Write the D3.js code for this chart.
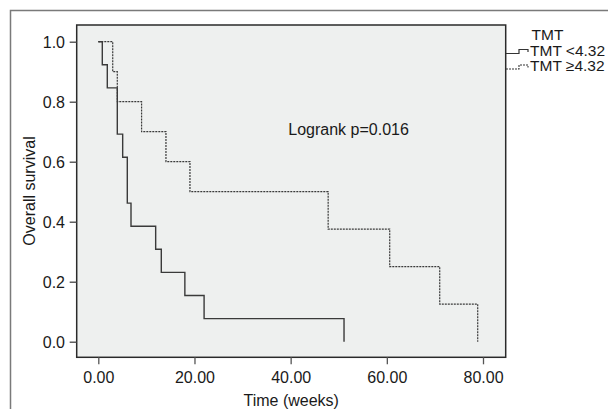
<!DOCTYPE html>
<html><head><meta charset="utf-8">
<script src="https://cdn.jsdelivr.net/npm/d3@7"></script>
<style>body{margin:0;background:#fff}svg{display:block}text{font-family:"Liberation Sans",Arial,sans-serif;fill:#1a1a1a}</style>
</head><body><svg id="c" width="608" height="409"></svg>
<script>
// data
const groupNames = ["TMT <4.32", "TMT \u22654.32"];
const legendTitle = "TMT";
const lowTimes = [0, 0.83, 1.87, 3.95, 5.07, 6.03, 6.8, 11.93, 13.1, 18.0, 22.0, 51.1];
const lowSurv  = [1.0, 0.923, 0.846, 0.692, 0.615, 0.462, 0.385, 0.308, 0.231, 0.154, 0.077, 0.0];
const highTimes = [0, 3.0, 3.95, 9.0, 14.07, 19.06, 47.8, 60.6, 71.0, 78.9];
const highSurv  = [1.0, 0.9, 0.8, 0.7, 0.6, 0.5, 0.375, 0.25, 0.125, 0.0];
const xTicks = [0, 20, 40, 60, 80];
const yTicks = [0, 0.2, 0.4, 0.6, 0.8, 1.0];
const annotation = "Logrank p=0.016";
const xTitle = "Time (weeks)";
const yTitle = "Overall survival";

const svg = d3.select("#c");
const P = {l: 76.7, r: 505.7, t: 25, b: 357.3};
const x = d3.scaleLinear().domain([0, 80]).range([98.3, 483]);
const y = d3.scaleLinear().domain([0, 1]).range([341.7, 41.7]);

// outer frame
svg.append("path").attr("d", "M10.5,409 L10.5,10.5 L608,10.5")
  .attr("fill", "none").attr("stroke", "#7a7a7a").attr("stroke-width", 1.5);

// plot area
svg.append("rect").attr("x", P.l).attr("y", P.t).attr("width", P.r - P.l).attr("height", P.b - P.t)
  .attr("fill", "#eef0ef").attr("stroke", "#2a2a2a").attr("stroke-width", 1.5);

// axes
const ya = svg.append("g").attr("transform", `translate(${P.l},0)`)
  .call(d3.axisLeft(y).tickValues(yTicks).tickFormat(d3.format(".1f")).tickSize(7));
ya.select(".domain").remove();
ya.selectAll("line").attr("stroke", "#444").attr("stroke-width", 1.3);
ya.selectAll("text").attr("x", -11.7).attr("dy", "0.36em").style("font-size", "16px")
  .attr("font-family", null).attr("fill", "#1a1a1a");

const xa = svg.append("g").attr("transform", `translate(0,${P.b})`)
  .call(d3.axisBottom(x).tickValues(xTicks).tickFormat(d3.format(".2f")).tickSize(7));
xa.select(".domain").remove();
xa.selectAll("line").attr("stroke", "#555").attr("stroke-width", 1.3);
xa.selectAll("text").attr("y", 26).attr("dy", 0).style("font-size", "16px")
  .attr("font-family", null).attr("fill", "#1a1a1a");

// curves
const line = d3.line().x(d => x(d[0])).y(d => y(d[1])).curve(d3.curveStepAfter);
const lowPts = lowTimes.map((t, i) => [t, lowSurv[i]]);
const highPts = highTimes.map((t, i) => [t, highSurv[i]]);
svg.append("path").attr("d", line(highPts)).attr("fill", "none")
  .attr("stroke", "#3a3a3a").attr("stroke-width", 1.2).attr("stroke-dasharray", "2,1");
svg.append("path").attr("d", line(lowPts)).attr("fill", "none")
  .attr("stroke", "#3a3a3a").attr("stroke-width", 1.4);

// annotation
svg.append("text").attr("x", 288.3).attr("y", 135).style("font-size", "16px").text(annotation);

// titles
svg.append("text").attr("x", (P.l + P.r) / 2).attr("y", 406).attr("text-anchor", "middle")
  .style("font-size", "16px").text(xTitle);
svg.append("text").attr("transform", "translate(34.5,191) rotate(-90)").attr("text-anchor", "middle")
  .style("font-size", "16px").text(yTitle);

// legend
svg.append("text").attr("x", 531.5).attr("y", 40).style("font-size", "15.5px").text(legendTitle);
const rows = [{y: 55.5, dash: null}, {y: 71, dash: "2,1"}];
rows.forEach((r, i) => {
  const b = r.y - 2;
  svg.append("path")
    .attr("d", `M506,${b} L519,${b} L519,${b - 4} L528,${b - 4} L528,${b - 1.5}`)
    .attr("fill", "none").attr("stroke", "#333").attr("stroke-width", i ? 1.1 : 1.2)
    .attr("stroke-dasharray", r.dash);
  svg.append("text").attr("x", 530).attr("y", r.y).style("font-size", "15.5px").text(groupNames[i]);
});
</script></body></html>
